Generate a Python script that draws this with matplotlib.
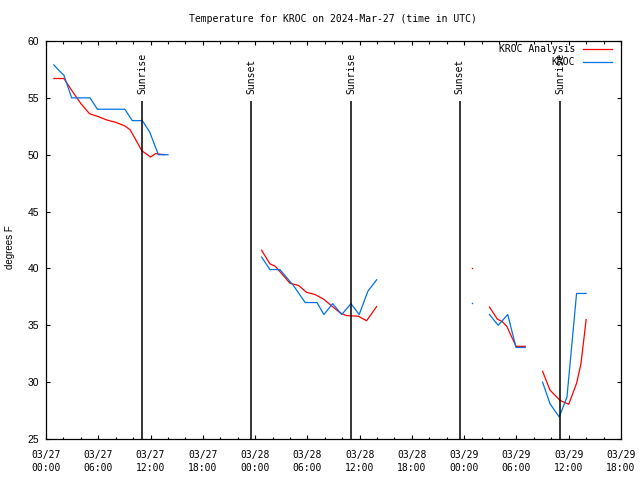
import matplotlib
matplotlib.use('Agg')
import matplotlib.pyplot as plt
from matplotlib.ticker import FixedLocator, MultipleLocator
import numpy as np

nan = np.nan

# hours since 2024-03-27 00:00 UTC
analysis_hours = [0.9, 2.05, 3.0, 4.0, 5.0, 6.0, 7.0, 8.0, 9.0, 9.65, 10.2, 11.0, 12.0, 12.6, 13.55, nan,
                  24.75, 25.7, 26.3, 28.0, 29.0, 29.9, 30.9, 31.85, 32.8, 33.75, 34.5, 35.85, 36.8, 37.95, nan,
                  48.95, nan,
                  50.9, 51.8, 52.4, 52.9, 53.95, 55.0, nan,
                  57.0, 57.85, 59.0, 60.0, 60.9, 61.4, 62.0]
analysis_temps = [56.7, 56.7, 55.6, 54.5, 53.6, 53.35, 53.05, 52.85, 52.55, 52.2, 51.45, 50.35, 49.8, 50.1, 50.0, nan,
                  41.6, 40.4, 40.2, 38.7, 38.5, 37.9, 37.7, 37.3, 36.7, 36.1, 35.85, 35.8, 35.4, 36.65, nan,
                  40.05, nan,
                  36.6, 35.55, 35.3, 34.9, 33.15, 33.15, nan,
                  30.95, 29.3, 28.4, 28.05, 29.9, 31.6, 35.5]

obs_hours = [0.9, 1.5, 2.05, 2.95, 4.0, 5.05, 5.9, 7.0, 8.0, 9.05, 9.9, 11.05, 11.9, 12.9, 14.0, nan,
             24.75, 25.7, 26.85, 28.4, 29.75, 31.1, 31.9, 32.9, 33.95, 35.0, 35.95, 36.95, 37.95, nan,
             48.95, nan,
             50.9, 51.9, 53.0, 53.95, 55.0, nan,
             57.0, 57.85, 58.9, 59.2, 59.8, 60.9, 62.0]
obs_temps = [57.9, 57.4, 57.0, 55.0, 55.0, 55.0, 54.0, 54.0, 54.0, 54.0, 53.0, 53.0, 52.0, 50.0, 50.0, nan,
             41.0, 39.9, 39.9, 38.5, 37.0, 37.0, 35.95, 36.9, 35.95, 36.9, 35.95, 38.0, 39.0, nan,
             36.95, nan,
             35.95, 35.0, 35.95, 33.05, 33.05, nan,
             30.0, 28.1, 26.95, 27.5, 28.7, 37.8, 37.8]

sun_hours = [11.06, 23.54, 35.0, 47.5, 59.0]
sun_labels = ['Sunrise', 'Sunset', 'Sunrise', 'Sunset', 'Sunrise']

tick_hours = [0, 6, 12, 18, 24, 30, 36, 42, 48, 54, 60, 66]
tick_labels = ['03/27\n00:00', '03/27\n06:00', '03/27\n12:00', '03/27\n18:00',
               '03/28\n00:00', '03/28\n06:00', '03/28\n12:00', '03/28\n18:00',
               '03/29\n00:00', '03/29\n06:00', '03/29\n12:00', '03/29\n18:00']
temp_ticks = [25, 30, 35, 40, 45, 50, 55, 60]

RED = '#ff0000'
BLUE = '#0073e6'
mono = 'DejaVu Sans Mono'

fig = plt.figure(figsize=(6.4, 4.8), dpi=100)
ax = fig.add_axes([46 / 640, 41 / 480, 575 / 640, 398 / 480])


def lone_points(h, t):
    h = np.array(h, dtype=float)
    t = np.array(t, dtype=float)
    prev_nan = np.r_[True, np.isnan(t[:-1])]
    next_nan = np.r_[np.isnan(t[1:]), True]
    keep = ~np.isnan(t) & prev_nan & next_nan
    return h[keep], t[keep]


ax.plot(analysis_hours, analysis_temps, color=RED, lw=0.9, label='KROC Analysis')
ax.plot(obs_hours, obs_temps, color=BLUE, lw=0.9, label='KROC')
for h, t, c in [(analysis_hours, analysis_temps, RED), (obs_hours, obs_temps, BLUE)]:
    lh, lt = lone_points(h, t)
    ax.plot(lh, lt, ls='none', marker='s', ms=1.0, mew=0, color=c)

for h, lab in zip(sun_hours, sun_labels):
    ax.vlines(h, 25, 54.75, color='black', lw=1.1)
    ax.text(h, 55.35, lab, rotation=90, ha='center', va='bottom',
            fontsize=7, family=mono)

ax.set_xlim(0, 66)
ax.set_ylim(25, 60)
ax.xaxis.set_major_locator(FixedLocator(tick_hours))
ax.set_xticklabels(tick_labels, fontsize=7, family=mono, linespacing=1.3)
ax.xaxis.set_minor_locator(MultipleLocator(2))
ax.yaxis.set_major_locator(FixedLocator(temp_ticks))
ax.set_yticklabels([str(v) for v in temp_ticks], fontsize=7.5, family='Liberation Sans')
ax.tick_params(which='both', direction='in', top=True, right=True, width=0.8)
ax.tick_params(which='major', length=3.2)
ax.tick_params(axis='x', which='major', pad=8)
ax.tick_params(axis='y', which='major', pad=5)
ax.tick_params(which='minor', length=1.8)
for s in ax.spines.values():
    s.set_linewidth(0.9)

fig.text(332.5 / 640, 1 - 19 / 480, 'Temperature for KROC on 2024-Mar-27 (time in UTC)',
         ha='center', va='center', fontsize=7, family=mono)
fig.text(10 / 640, 1 - 247 / 480, 'degrees F', rotation=90, ha='center', va='center',
         fontsize=7, family='Liberation Sans')

ax.legend(loc='upper right', bbox_to_anchor=(612 / 640, 1 - 44 / 480),
          bbox_transform=fig.transFigure, frameon=False, markerfirst=False,
          prop={'family': mono, 'size': 7}, handlelength=3.0, handletextpad=0.8,
          labelspacing=0.35, borderpad=0, borderaxespad=0)

fig.savefig('out.png', dpi=100)
